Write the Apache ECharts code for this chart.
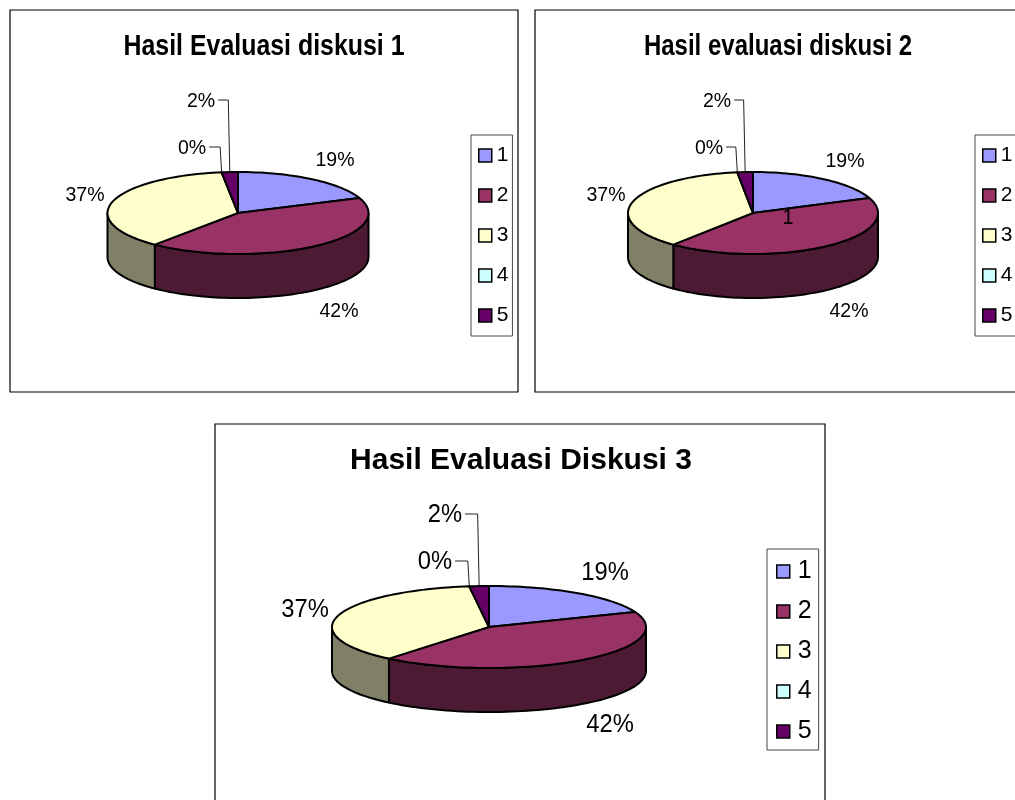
<!DOCTYPE html>
<html>
<head>
<meta charset="utf-8">
<title>Hasil Evaluasi Diskusi</title>
<script src="https://cdn.jsdelivr.net/npm/echarts@6/dist/echarts.min.js"></script>
<style>
html, body { margin: 0; padding: 0; background: #fff; }
#main { width: 1015px; height: 800px; }
</style>
</head>
<body>
<div id="main"></div>
<script>
const sliceNames = ['1', '2', '3', '4', '5'];
const titles = ['Hasil Evaluasi diskusi 1', 'Hasil evaluasi diskusi 2', 'Hasil Evaluasi Diskusi 3'];
const values1 = [19, 42, 37, 0, 2];
const values2 = [19, 42, 37, 0, 2];
const values3 = [19, 42, 37, 0, 2];
const sliceColors = ['#9999ff', '#993366', '#ffffcc', '#ccffff', '#660066'];
const wallColors = ['#4d4d80', '#4d1a33', '#808066', '#668080', '#330033'];

// layout of the three panels, label offsets are relative to the pie centre
const panels = [
  {
    values: values1,
    frame: [10, 10, 508, 382], titleX: 264, titleY: 47, titleScale: 0.83,
    cx: 238, cy: 213, rx: 130.5, ry: 41, depth: 44, labelSize: 21, labelScale: 0.93,
    labels: [[97, -53], [101, 98], [-153, -18], [-46, -65], [-37, -112]],
    legend: { left: 471, top: 135, size: 21, gap: 19, padding: [10, 4, 10, 7], textPad: 0 }
  },
  {
    values: values2,
    frame: [535, 10, 520, 382], titleX: 778, titleY: 47, titleScale: 0.8,
    cx: 753, cy: 213, rx: 125, ry: 41, depth: 44, labelSize: 21, labelScale: 0.93,
    labels: [[92, -52], [96, 98], [-147, -18], [-44, -65], [-36, -112]],
    legend: { left: 975, top: 135, size: 21, gap: 19, padding: [10, 4, 10, 7], textPad: 0 }
  },
  {
    values: values3,
    frame: [215, 424, 610, 420], titleX: 521, titleY: 461, titleScale: 1,
    cx: 489, cy: 627, rx: 157, ry: 41, depth: 44, labelSize: 25, labelScale: 0.95,
    labels: [[116, -54], [121, 98], [-184, -17], [-54, -65], [-44, -112]],
    legend: { left: 767, top: 549, size: 25, gap: 15, padding: [10, 7, 6, 9], textPad: 3 }
  }
];

function rim(p, deg, dy) {
  const a = deg * Math.PI / 180;
  return [p.cx + p.rx * Math.sin(a), p.cy - p.ry * Math.cos(a) + (dy || 0)];
}

function arc(p, from, to, dy) {
  const pts = [];
  const steps = Math.max(1, Math.ceil((to - from) / 2));
  for (let i = 0; i <= steps; i++) pts.push(rim(p, from + (to - from) * i / steps, dy));
  return pts;
}

function makeRender(p, idx) {
  const total = p.values.reduce((a, b) => a + b, 0);
  const before = p.values.slice(0, idx).reduce((a, b) => a + b, 0);
  return function (params, api) {
    const value = api.value(0);
    const start = before / total * 360;
    const end = (before + value) / total * 360;
    const children = [];
    const edge = { stroke: '#000', lineWidth: 2, lineJoin: 'round' };

    // only the front half of the side wall can be seen
    const wallFrom = Math.max(start, 90);
    const wallTo = Math.min(end, 270);
    if (wallTo > wallFrom) {
      children.push({
        type: 'polygon',
        shape: { points: arc(p, wallFrom, wallTo, 0).concat(arc(p, wallFrom, wallTo, p.depth).reverse()) },
        style: Object.assign({ fill: wallColors[idx] }, edge)
      });
    }
    children.push({
      type: 'polygon',
      shape: { points: [[p.cx, p.cy]].concat(arc(p, start, end, 0)) },
      style: Object.assign({ fill: sliceColors[idx] }, edge)
    });

    const lx = p.cx + p.labels[idx][0];
    const ly = p.cy + p.labels[idx][1];
    children.push({
      type: 'text',
      x: lx,
      y: ly,
      scaleX: p.labelScale,
      style: {
        x: 0, y: 0, text: value + '%', align: 'center', verticalAlign: 'middle',
        fontFamily: 'Liberation Sans', fontSize: p.labelSize, fill: '#000'
      }
    });
    // thin slices get a leader line from the label down to the rim
    if (value <= 2) {
      const anchor = rim(p, (start + end) / 2);
      const startX = lx + p.labelSize * 0.72 + 2;
      const elbowX = anchor[0] - 1.5;
      children.push({
        type: 'polyline',
        shape: { points: [[startX, ly - 1], [elbowX, ly - 1], anchor] },
        style: { stroke: '#222', lineWidth: 1, fill: null }
      });
    }
    return { type: 'group', children: children };
  };
}

const series = [];
panels.forEach(p => {
  sliceNames.forEach((name, idx) => {
    series.push({
      type: 'custom',
      name: name,
      coordinateSystem: 'none',
      silent: true,
      animation: false,
      itemStyle: { color: sliceColors[idx] },
      data: [[p.values[idx]]],
      renderItem: makeRender(p, idx)
    });
  });
});

const chart = echarts.init(document.getElementById('main'), null, { renderer: 'canvas' });
chart.setOption({
  backgroundColor: '#fff',
  animation: false,
  legend: panels.map(p => ({
    data: sliceNames,
    orient: 'vertical',
    left: p.legend.left,
    top: p.legend.top,
    padding: p.legend.padding,
    itemGap: p.legend.gap,
    itemWidth: 13,
    itemHeight: 13,
    icon: 'rect',
    selectedMode: false,
    backgroundColor: '#fff',
    borderColor: '#444',
    borderWidth: 1,
    itemStyle: { borderColor: '#000', borderWidth: 1.5 },
    textStyle: {
      fontFamily: 'Liberation Sans', fontSize: p.legend.size, color: '#000',
      padding: [0, 0, 0, p.legend.textPad]
    }
  })),
  graphic: panels.map(p => ({
    type: 'rect',
    silent: true,
    z: -1,
    shape: { x: p.frame[0], y: p.frame[1], width: p.frame[2], height: p.frame[3] },
    style: { fill: '#fff', stroke: '#000', lineWidth: 1.2 }
  })).concat(panels.map((p, i) => ({
    // the titles are squeezed sideways in the original, the title component cannot do that
    type: 'text',
    silent: true,
    z: 10,
    x: p.titleX,
    y: p.titleY,
    scaleX: p.titleScale,
    style: {
      x: 0, y: 0, text: titles[i], align: 'center', verticalAlign: 'middle',
      fontFamily: 'Liberation Sans', fontSize: 30, fontWeight: 'bold', fill: '#000'
    }
  }))).concat([{
    // stray "1" that sits on the second pie in the original
    type: 'text',
    silent: true,
    z: 10,
    x: 788,
    y: 218,
    scaleX: 0.9,
    style: { x: 0, y: 0, text: '1', align: 'center', verticalAlign: 'middle', fontFamily: 'Liberation Sans', fontSize: 22, fill: '#000' }
  }]),
  series: series
});
</script>
</body>
</html>
